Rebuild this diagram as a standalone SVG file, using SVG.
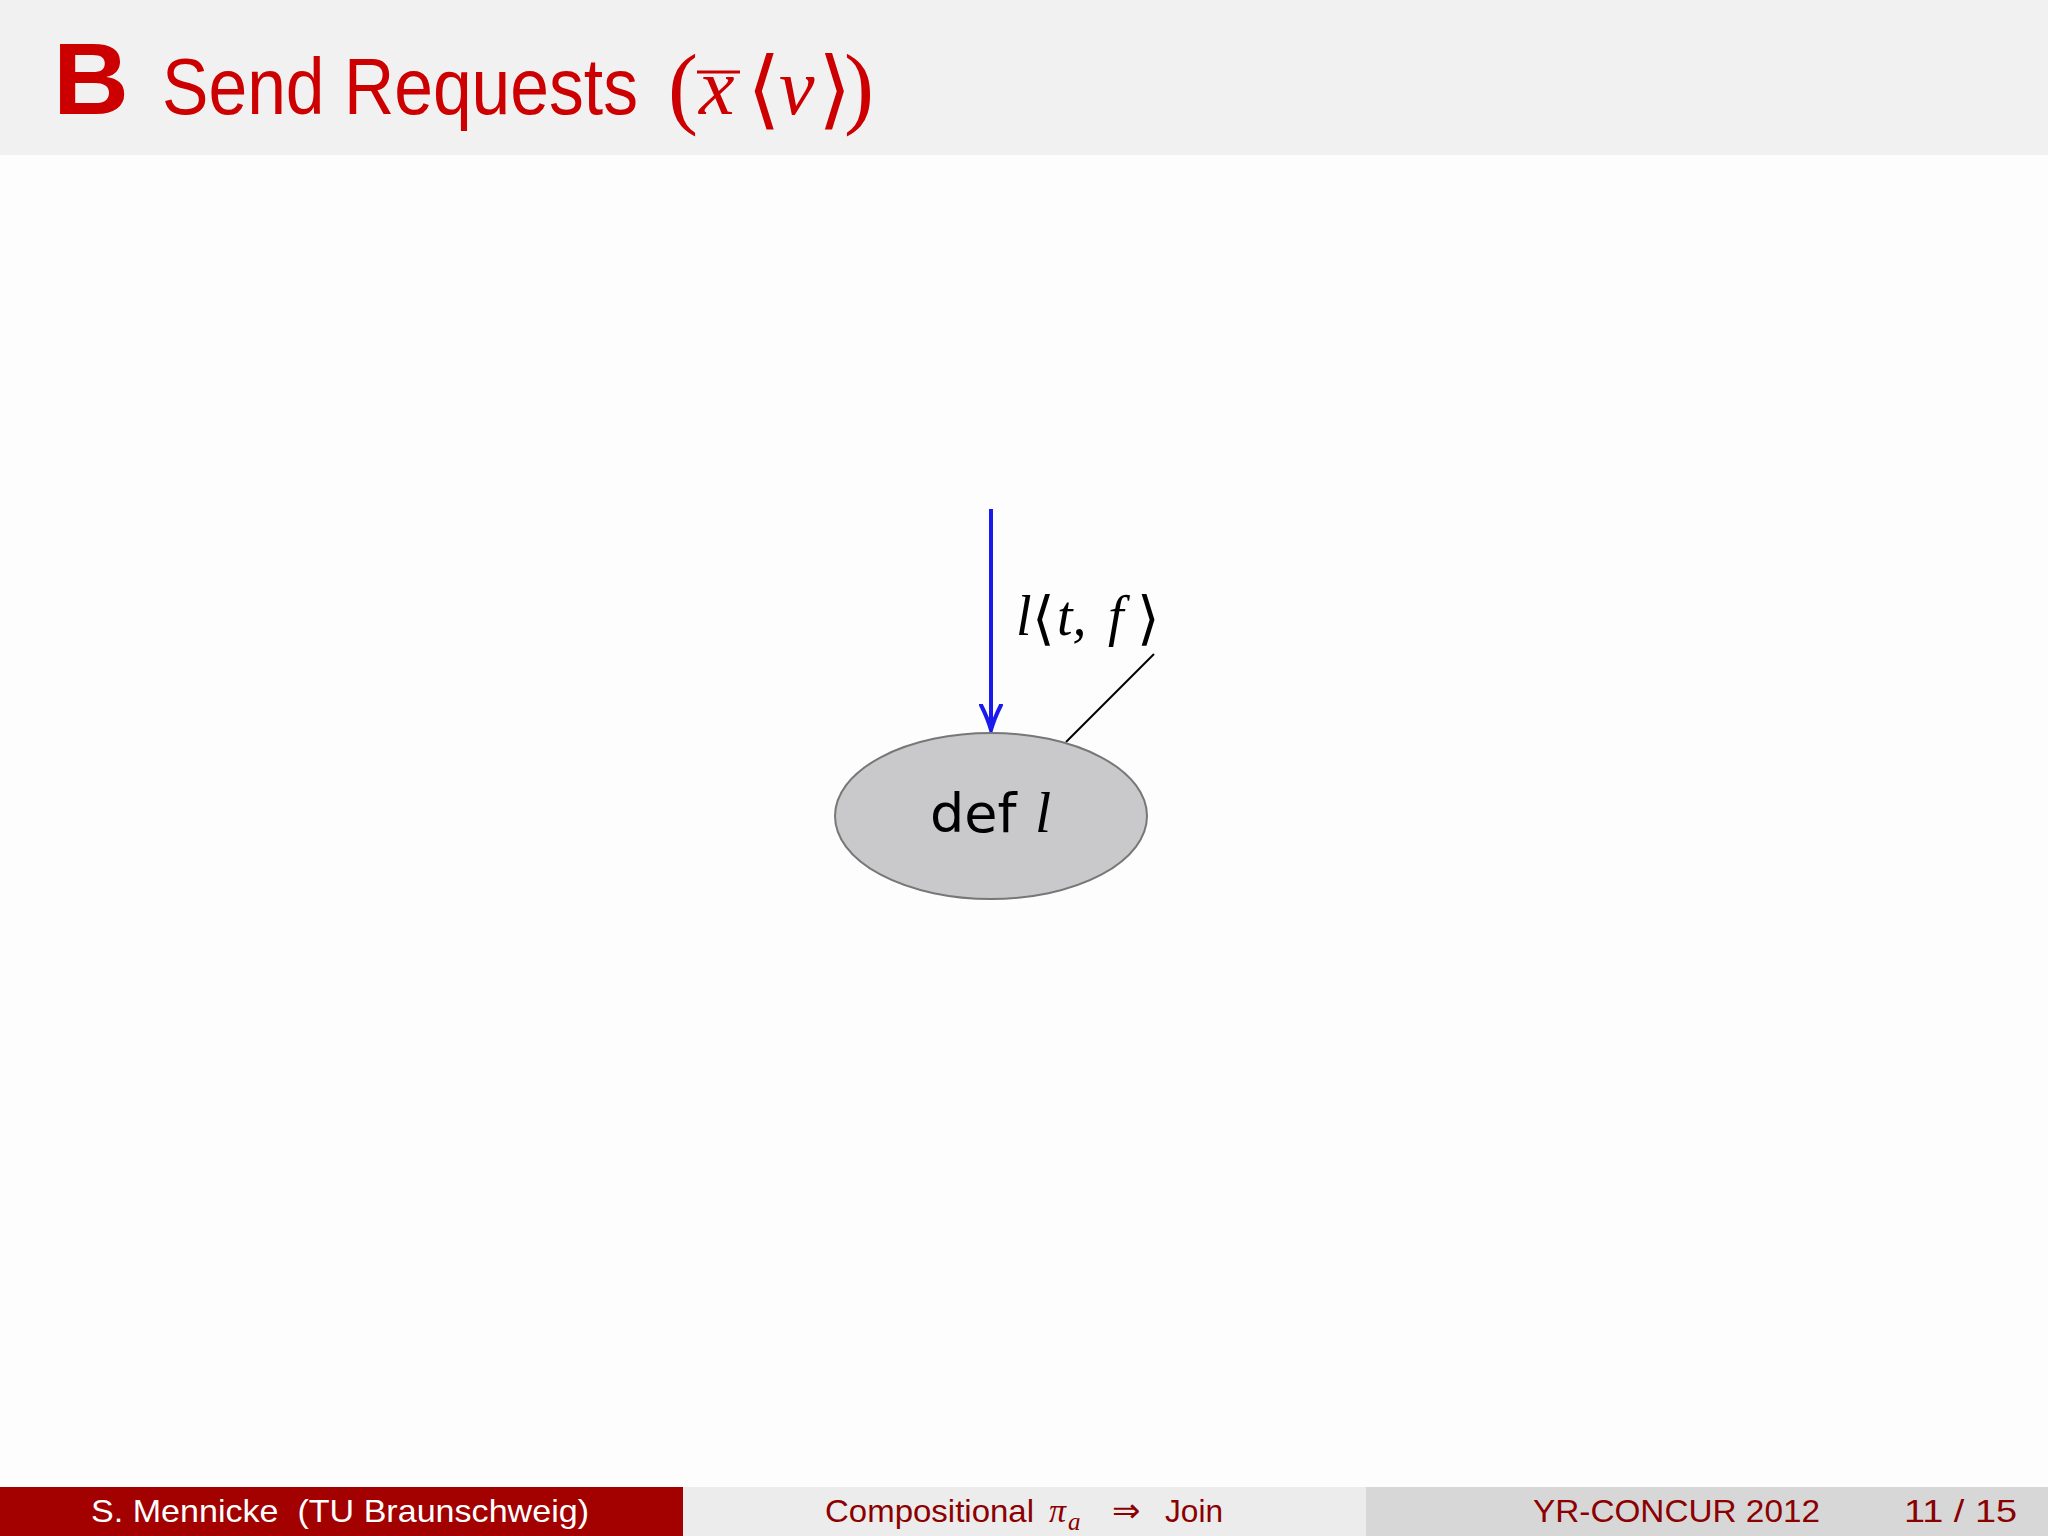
<svg xmlns="http://www.w3.org/2000/svg" width="2048" height="1536" viewBox="0 0 2048 1536">
<style>
.title{font-family:"Liberation Sans","DejaVu Sans",sans-serif;fill:#cc0000}
.math{font-family:"Liberation Serif","DejaVu Serif",serif;font-style:italic}
.sym{font-family:"DejaVu Sans",sans-serif;font-style:normal}
.paren{font-family:"Liberation Serif",serif;font-style:normal}
.foot{font-family:"Liberation Sans","DejaVu Sans",sans-serif;font-size:32px;white-space:pre}
.node{fill:#c9c8cb;stroke:#777777;stroke-width:2}
</style>
<defs>
<marker id="arr" markerWidth="30" markerHeight="26" refX="26" refY="12" orient="auto" markerUnits="userSpaceOnUse">
<path d="M1,2 Q15,9 26,12 Q15,15 1,22" fill="none" stroke="#1a1aee" stroke-width="4" stroke-linecap="round"/>
</marker>
</defs>
<rect x="0" y="0" width="2048" height="1536" fill="#fdfdfd"/>
<rect x="0" y="0" width="2048" height="155" fill="#f2f1f2"/>
<g id="title">
<text x="53" y="114" class="title" font-weight="bold" font-size="102" textLength="76" lengthAdjust="spacingAndGlyphs">B</text>
<text x="162" y="114" class="title" font-size="80" textLength="476" lengthAdjust="spacingAndGlyphs">Send Requests</text>
<text x="668" y="117" class="title"><tspan class="paren" font-size="90">(</tspan><tspan class="math" font-size="80" x="699" y="114">x</tspan><tspan class="sym" font-size="86" x="747" y="118">⟨</tspan><tspan class="math" font-size="80" x="779" y="114">v</tspan><tspan class="sym" font-size="86" x="818" y="118">⟩</tspan><tspan class="paren" font-size="90" x="844" y="117">)</tspan></text>
<line x1="697" y1="72" x2="740" y2="72" stroke="#cc0000" stroke-width="3"/>
</g>
<g id="connectors">
<line id="edge-in" x1="991" y1="509" x2="991" y2="730" stroke="#1a1aee" stroke-width="4" marker-end="url(#arr)"/>
<line id="label-leader" x1="1154" y1="654" x2="1066" y2="742" stroke="#000" stroke-width="2"/>
</g>
<g id="node-def">
<ellipse class="node" cx="991" cy="816" rx="156" ry="83"/>
<text x="930" y="832" font-family="DejaVu Sans,sans-serif" font-size="54" fill="#000">def <tspan class="math" font-size="58" x="1035">l</tspan></text>
</g>
<g id="label">
<text x="1016" y="635" class="math" font-size="56" fill="#000">l<tspan class="sym" font-size="58" x="1032" y="638">⟨</tspan><tspan x="1057" y="635">t,</tspan><tspan x="1108">f</tspan><tspan class="sym" font-size="58" x="1137" y="638">⟩</tspan></text>
</g>
<g id="footer">
<rect x="0" y="1487" width="683" height="49" fill="#a30000"/>
<rect x="683" y="1487" width="683" height="49" fill="#ececec"/>
<rect x="1366" y="1487" width="682" height="49" fill="#d7d7d8"/>
<text x="91" y="1522" class="foot" fill="#ffffff" textLength="498" lengthAdjust="spacingAndGlyphs">S. Mennicke  (TU Braunschweig)</text>
<text x="825" y="1522" class="foot" fill="#8b0000" textLength="209" lengthAdjust="spacingAndGlyphs">Compositional</text>
<text x="1049" y="1522" class="math" font-size="34" fill="#8b0000">π<tspan font-size="25" x="1068" y="1530">a</tspan></text>
<text x="1112" y="1522" class="sym" font-size="34" fill="#8b0000">⇒</text>
<text x="1165" y="1522" class="foot" fill="#8b0000" textLength="58" lengthAdjust="spacingAndGlyphs">Join</text>
<text x="1533" y="1522" class="foot" fill="#8b0000" textLength="287" lengthAdjust="spacingAndGlyphs">YR-CONCUR 2012</text>
<text x="1904" y="1522" class="foot" fill="#8b0000" textLength="113" lengthAdjust="spacingAndGlyphs">11 / 15</text>
</g>
</svg>
